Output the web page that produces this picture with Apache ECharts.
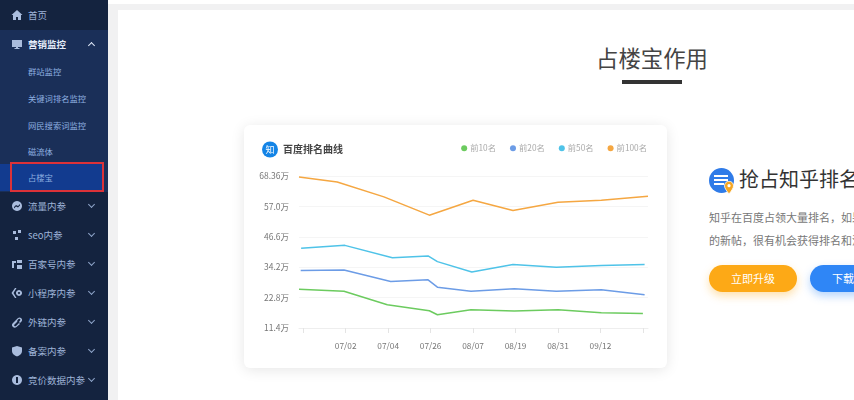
<!DOCTYPE html>
<html>
<head>
<meta charset="utf-8">
<script src="https://cdn.jsdelivr.net/npm/echarts@6/dist/echarts.min.js"></script>
<style>
html, body { margin: 0; padding: 0; width: 854px; height: 400px; overflow: hidden; background: #f1f1f2; font-family: "Noto Sans CJK SC", sans-serif; }
.side { position: absolute; left: 0; top: 0; width: 108px; height: 400px; background: #14233f; color: #9fb4d8; font-size: 9.5px; }
.sub { position: absolute; left: 0; top: 30px; width: 108px; height: 162px; background: #1a2f58; }
.sel { position: absolute; left: 0; top: 164px; width: 104px; height: 27px; background: #123b8f; }
.box { position: absolute; left: 10px; top: 162px; width: 90px; height: 26px; border: 2px solid #dc3238; }
.item { position: absolute; left: 28px; line-height: 14px; white-space: nowrap; }
.item.on { color: #e4ebf8; font-weight: bold; }
.item.child { color: #8fb0e0; font-size: 8.3px; }
.ic { position: absolute; left: 11px; width: 12px; height: 12px; fill: #a9bcdd; }
.arr { position: absolute; left: 89px; width: 4px; height: 4px; border-right: 1px solid #8ea4c9; border-bottom: 1px solid #8ea4c9; transform: rotate(45deg); }
.arr.up { transform: rotate(225deg); border-color: #dfe8f7; }
.strip { position: absolute; left: 108px; top: 0; width: 746px; height: 4px; background: #fff; }
.panel { position: absolute; left: 118px; top: 10px; width: 736px; height: 390px; background: #fff; }
.head { position: absolute; left: 117px; top: 41px; width: 1070px; text-align: center; font-size: 22.4px; color: #444; line-height: 32px; }
.bar { position: absolute; left: 622px; top: 80px; width: 60px; height: 4px; background: #333; }
.card { position: absolute; left: 244px; top: 125px; width: 423px; height: 243px; background: #fff; border-radius: 6px; box-shadow: 0 2px 14px rgba(0,0,0,.10); }
#chart { width: 423px; height: 243px; }
.ico { position: absolute; left: 709px; top: 168px; width: 25px; height: 25px; border-radius: 50%; background: #2f7be8; }
.ico i { position: absolute; left: 5px; width: 14px; height: 2px; background: #fff; }
.pin { position: absolute; left: 724px; top: 181px; width: 10px; height: 13px; }
.t1 { position: absolute; left: 739px; top: 163px; font-size: 20px; line-height: 32px; color: #333; white-space: nowrap; }
.t2 { position: absolute; left: 709px; font-size: 11px; line-height: 16px; color: #777; white-space: nowrap; }
.btn { position: absolute; top: 265px; height: 27px; border-radius: 14px; color: #fff; font-size: 11px; line-height: 27px; text-align: center; }
</style>
</head>
<body>
<div class="side">
  <div class="sub"></div>
  <div class="sel"></div>
  <div class="box"></div>
  <div id="menu"></div>
</div>
<div class="strip"></div>
<div class="panel"></div>
<div class="head">占楼宝作用</div>
<div class="bar"></div>
<div class="card"><div id="chart"></div></div>
<div class="ico"><i style="top:7px"></i><i style="top:11px"></i><i style="top:15px;width:10px"></i></div>
<svg class="pin" viewBox="0 0 10 13"><path d="M5 13C2 9 .5 7 .5 4.7a4.5 4.5 0 0 1 9 0C9.500 7 8 9 5 13z" fill="#f5a623" stroke="#fff" stroke-width=".8"/><circle cx="5" cy="4.700" r="1.600" fill="#fff"/></svg>
<div class="t1">抢占知乎排名</div>
<div class="t2" style="top:209px">知乎在百度占领大量排名，如果您发布</div>
<div class="t2" style="top:232px">的新帖，很有机会获得排名和流量</div>
<div class="btn" style="left:709px;width:88px;background:#fda916;box-shadow:0 4px 8px rgba(253,169,22,.35)">立即升级</div>
<div class="btn" style="left:810px;width:88px;background:#2f86f6;box-shadow:0 4px 8px rgba(47,134,246,.35)">下载插件</div>
<script>
// little menu glyphs
var icons = {
    home: 'M6 1 0.500 6H2v5h3V8h2v3h3V6h1.500z',
    screen: 'M1 2h10v7H7v1h1.500v1h-5v-1H5V9H1z',
    flow: 'M6 1a5 5 0 1 0 .01 0zM3 7l2-2 2 1 2-2v1.500L7 7.500 5 6.500 3 8.500z',
    seo: 'M2 2h3v3H2zM7 1h3v3H7zM4 8h3v3H4z',
    bjh: 'M1 3h4v2H3v5H1zM6 2h5v3H6zM6 7h5v4H6z',
    mini: 'M4 1 0.500 6 4 11h1.500L2.500 6l3-5zM8 3a3 3 0 1 0 .01 0zM8 5a1 1 0 1 1-.01 0z',
    link: 'M2 7l3-3 1.500 1.500-3 3a1 1 0 0 0 1.500 1.500L8 7l1 1-3.500 3A2.500 2.500 0 0 1 2 7zM5 4l2-2a2.500 2.500 0 0 1 3.500 3.500L9 7 8 6l1-1.500A1 1 0 0 0 7.500 3L6 5z',
    shield: 'M6 1l5 1.500V6c0 3-2.500 4.500-5 5.500C3.500 10.500 1 9 1 6V2.500z',
    bid: 'M6 1a5 5 0 1 0 .01 0zM5 3h2v6H5z'
};
var menu = [
    ['首页', 15, 'top', 'home'], ['营销监控', 44, 'open', 'screen'],
    ['群站监控', 71, 'child'], ['关键词排名监控', 98, 'child'], ['网民搜索词监控', 125, 'child'],
    ['磁流体', 151, 'child'], ['占楼宝', 177, 'child'],
    ['流量内参', 206, '', 'flow'], ['seo内参', 235, '', 'seo'], ['百家号内参', 264, '', 'bjh'], ['小程序内参', 293, '', 'mini'],
    ['外链内参', 322, '', 'link'], ['备案内参', 351, '', 'shield'], ['竞价数据内参', 380, '', 'bid']
];
var html = '';
menu.forEach(function (m) {
    var top = m[1] - 7;
    var cls = m[2] == 'child' ? 'item child' : (m[2] == 'open' ? 'item on' : 'item');
    html += '<div class="' + cls + '" style="top:' + top + 'px">' + m[0] + '</div>';
    if (m[3]) html += '<svg class="ic" viewBox="0 0 12 12" style="top:' + (m[1] - 6) + 'px"><path fill-rule="evenodd" d="' + icons[m[3]] + '"/></svg>';
    if (!m[2]) html += '<div class="arr" style="top:' + (m[1] - 4) + 'px"></div>';
    if (m[2] == 'open') html += '<div class="arr up" style="top:' + (m[1] - 1) + 'px"></div>';
});
document.getElementById('menu').innerHTML = html;

var chart = echarts.init(document.getElementById('chart'));
var dates = ['', '07/02', '07/04', '07/26', '08/07', '08/19', '08/31', '09/12', ''];

// x is counted in tick steps, the curves do not sit exactly on the ticks
var data10 = [[-0.10, 25.96], [0.96, 25.21], [1.98, 20.11], [2.97, 17.87], [3.16, 16.38], [3.95, 18.24], [4.97, 17.75], [6.00, 18.24], [7.02, 17.12], [8.00, 16.88]];
var data20 = [[-0.06, 32.93], [0.96, 33.18], [2.06, 28.82], [2.94, 29.45], [3.16, 26.71], [3.95, 25.21], [4.97, 26.09], [5.96, 25.21], [7.02, 25.71], [8.04, 23.84]];
var data50 = [[-0.05, 41.27], [0.98, 42.39], [2.10, 37.78], [2.94, 38.41], [3.16, 36.30], [3.97, 32.43], [4.94, 35.17], [5.96, 34.17], [7.02, 34.80], [8.04, 35.17]];
var data100 = [[-0.10, 68.03], [0.80, 66.16], [1.90, 60.56], [2.97, 53.71], [4.00, 59.31], [4.94, 55.46], [6.00, 58.57], [7.02, 59.31], [8.12, 60.81]];

function line(name, color, data) {
    return {
        name: name,
        type: 'line',
        data: data,
        symbol: 'none',
        lineStyle: { color: color, width: 1.5 },
        itemStyle: { color: color }
    };
}

var font = 'Noto Sans CJK SC';
var option = {
    animation: false,
    title: {
        text: '百度排名曲线',
        left: 34,
        top: 14,
        textStyle: { fontSize: 10, fontWeight: 'bold', color: '#444', fontFamily: font }
    },
    legend: {
        right: 15,
        top: 14,
        icon: 'circle',
        itemWidth: 6,
        itemHeight: 6,
        itemGap: 14,
        textStyle: { fontSize: 8.3, color: '#aaa', padding: [0, 0, 0, -2], fontFamily: font },
        data: ['前10名', '前20名', '前50名', '前100名']
    },
    graphic: [{
        type: 'circle',
        shape: { cx: 26, cy: 24.5, r: 8 },
        style: { fill: '#1484e6' }
    }, {
        type: 'text',
        style: { x: 26, y: 24.5, text: '知', fill: '#fff', fontSize: 9, align: 'center', verticalAlign: 'middle', fontFamily: font }
    }],
    grid: { left: 55, right: 19, top: 51, bottom: 40 },
    xAxis: {
        type: 'value',
        min: -0.10,
        max: 8.12,
        splitLine: { show: false },
        axisLine: { show: true, lineStyle: { color: '#eeeeee' } },
        axisTick: { show: true, length: 5, lineStyle: { color: '#e4e4e4' }, customValues: [0, 1, 2, 3, 4, 5, 6, 7, 8] },
        axisLabel: {
            fontSize: 8.3,
            color: '#777',
            margin: 14,
            fontFamily: font,
            customValues: [1, 2, 3, 4, 5, 6, 7],
            formatter: function (v) { return dates[v]; }
        }
    },
    yAxis: {
        type: 'value',
        min: 11.4,
        max: 68.4,
        interval: 11.4,
        axisLine: { show: false },
        axisTick: { show: false },
        splitLine: { lineStyle: { color: '#f5f5f5' } },
        axisLabel: {
            fontSize: 8.5,
            color: '#777',
            margin: 10,
            fontFamily: font,
            formatter: function (v) {
                var i = Math.round((v - 11.4) / 11.4);
                return ['11.4万', '22.8万', '34.2万', '46.6万', '57.0万', '68.36万'][i];
            }
        }
    },
    series: [
        line('前10名', '#6ccb5f', data10),
        line('前20名', '#6c9ce6', data20),
        line('前50名', '#4fc3e8', data50),
        line('前100名', '#f5a742', data100)
    ]
};
chart.setOption(option);
</script>
</body>
</html>
